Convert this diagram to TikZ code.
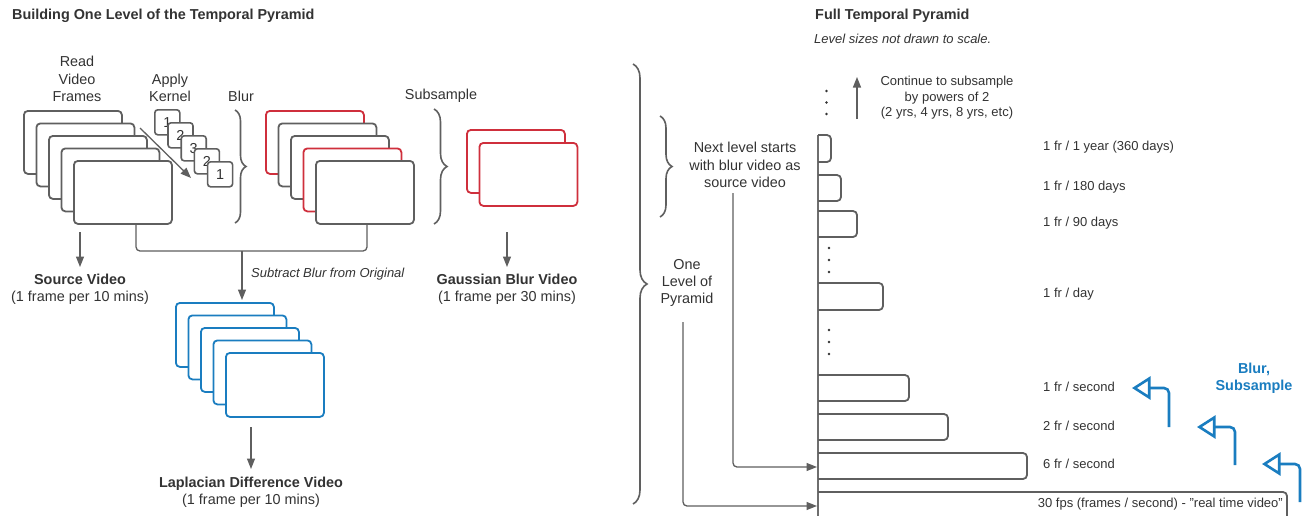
\documentclass[tikz,border=0pt]{standalone}
\usepackage{fontspec}
\setmainfont{Liberation Sans}
\usetikzlibrary{arrows.meta,decorations.pathreplacing}
\definecolor{fgray}{HTML}{5F5F5F}
\definecolor{agray}{HTML}{6E6E6E}
\definecolor{tgray}{HTML}{333333}
\definecolor{fred}{HTML}{CF2F3C}
\definecolor{fblue}{HTML}{1A7DC0}
\newcommand{\mainsz}{\fontsize{14.4pt}{17.3pt}\selectfont}
\newcommand{\smallsz}{\fontsize{13pt}{15.5pt}\selectfont}
\tikzset{
  vframe/.style={draw=fgray, line width=1.8pt, fill=white, rounded corners=4pt, minimum width=98pt, minimum height=63pt, inner sep=0pt, anchor=north west},
  redframe/.style={vframe, draw=fred},
  blueframe/.style={vframe, draw=fblue, minimum height=64pt},
  kbox/.style={draw=fgray, line width=1.6pt, fill=white, rounded corners=3pt, minimum size=25pt, inner sep=0pt, anchor=north west, font=\mainsz, text=tgray},
  lbl/.style={font=\mainsz, text=tgray, align=center, inner sep=0pt},
  slbl/.style={font=\smallsz, text=tgray, align=center, inner sep=0pt},
  gline/.style={draw=fgray, line width=1.3pt, rounded corners=4pt},
  garrow/.style={gline, -{Triangle[length=10.5pt,width=8pt]}},
  brc/.style={draw=fgray, line width=1.6pt, decorate, decoration={brace, amplitude=#1}},
  levelbar/.style={draw=fgray, line width=1.8pt, rounded corners=4pt},
  barrow/.style={draw=fblue, line width=2.6pt, rounded corners=5pt, -{Triangle[open, length=18.5pt, width=23pt]}},
  pdot/.style={fill=black!80, circle, inner sep=0pt, minimum size=2.6pt}
}
\begin{document}
\begin{tikzpicture}[x=1pt,y=-1pt]
\useasboundingbox (0,0) rectangle (1303,515);
\clip (0,0) rectangle (1303,515);
\fill[white] (0,0) rectangle (1303,515);

% titles
\node[lbl, anchor=west, font=\mainsz\bfseries] (t1) at (12,16) {Building One Level of the Temporal Pyramid};
\node[lbl, anchor=west, font=\mainsz\bfseries] (t2) at (815,16) {Full Temporal Pyramid};
\node[slbl, anchor=west, font=\smallsz\itshape] (t3) at (814,39) {Level sizes not drawn to scale.};

% labels above
\node[lbl] (readlbl) at (77,79) {Read\\Video\\Frames};
\node[lbl] (kernlbl) at (170,88) {Apply\\Kernel};
\node[lbl] (blurlbl) at (241,96) {Blur};
\node[lbl] (subslbl) at (441,96) {Subsample};

% source frames
\node[vframe] (s1) at (23,110) {};
\node[vframe] (s2) at (35.5,122.5) {};
\node[vframe] (s3) at (48,135) {};
\node[vframe] (s4) at (60.5,147.5) {};
\node[vframe] (s5) at (73,160) {};

% kernel boxes
\node[kbox] (k1) at (154,109) {1};
\node[kbox] (k2) at (167.2,122) {2};
\node[kbox] (k3) at (180.4,135) {3};
\node[kbox] (k4) at (193.6,148) {2};
\node[kbox] (k5) at (206.8,161) {1};
\coordinate (kA) at (140,128);
\coordinate (kB) at (191,178);
\draw[garrow] (kA) -- (kB);

% blur frames
\node[redframe] (b1) at (265,110) {};
\node[vframe] (b2) at (277.5,122.5) {};
\node[vframe] (b3) at (290,135) {};
\node[redframe] (b4) at (302.5,147.5) {};
\node[vframe] (b5) at (315,160) {};

% subsampled frames
\node[redframe] (g1) at (466,129) {};
\node[redframe] (g2) at (478.5,142) {};

% braces
\draw[brc=11pt] (235,110) -- (235,223);
\draw[brc=13pt] (434,109) -- (434,224);

% source video
\coordinate (srcA) at (80,232);
\coordinate (srcB) at (80,267);
\draw[garrow] (srcA) -- (srcB);
\node[lbl] (srclbl) at (80,289.5) {\bfseries Source Video\\(1 frame per 10 mins)};

% gaussian
\coordinate (gA) at (507,232);
\coordinate (gB) at (507,267);
\draw[garrow] (gA) -- (gB);
\node[lbl] (gausslbl) at (507,289.5) {\bfseries Gaussian Blur Video\\(1 frame per 30 mins)};

% subtract connector
\coordinate (subL) at (136,223);
\coordinate (subR) at (367,224);
\coordinate (subM) at (242,251);
\coordinate (subE) at (242,300);
\draw[gline] (subL) |- (subM) -| (subR);
\draw[garrow] (subM) -- (subE);
\node[lbl, anchor=west, font=\smallsz\itshape] (subtr) at (251,274) {Subtract Blur from Original};

% laplacian frames
\node[blueframe] (l1) at (175,302) {};
\node[blueframe] (l2) at (187.5,314.5) {};
\node[blueframe] (l3) at (200,327) {};
\node[blueframe] (l4) at (212.5,339.5) {};
\node[blueframe] (l5) at (225,352) {};
\coordinate (lA) at (251,427);
\coordinate (lB) at (251,469);
\draw[garrow] (lA) -- (lB);
\node[lbl] (lapl) at (251,492) {\bfseries Laplacian Difference Video\\(1 frame per 10 mins)};

% right side braces and labels
\draw[brc=14pt] (633,64) -- (633,504);
\draw[brc=12pt] (660,116) -- (660,217);
\node[lbl] (onelvl) at (687,283) {One\\Level of\\Pyramid};
\node[lbl] (nextlvl) at (745,165) {Next level starts\\with blur video as\\source video};

% axis and bars
\draw[draw=agray, line width=1.5pt] (818,135) -- (818,520);
\draw[levelbar] (818,135) -- (831,135) -- (831,162) -- (818,162);
\draw[levelbar] (818,175) -- (841,175) -- (841,201) -- (818,201);
\draw[levelbar] (818,211) -- (857,211) -- (857,237) -- (818,237);
\draw[levelbar] (818,283) -- (883,283) -- (883,310) -- (818,310);
\draw[levelbar] (818,375) -- (909,375) -- (909,401) -- (818,401);
\draw[levelbar] (818,414) -- (948,414) -- (948,440) -- (818,440);
\draw[levelbar] (818,453) -- (1027,453) -- (1027,479) -- (818,479);
\draw[levelbar] (818,492) -- (1287,492) -- (1287,530) -- (818,530);

% dots
\node[pdot] (d1) at (826.5,91) {};
\node[pdot] (d2) at (826.5,102.5) {};
\node[pdot] (d3) at (826.5,114) {};
\node[pdot] (d4) at (829,248) {};
\node[pdot] (d5) at (829,260) {};
\node[pdot] (d6) at (829,272) {};
\node[pdot] (d7) at (829,330) {};
\node[pdot] (d8) at (829,342) {};
\node[pdot] (d9) at (829,354) {};

% continue arrow
\coordinate (upA) at (857,119);
\coordinate (upB) at (857,77);
\draw[garrow] (upA) -- (upB);
\node[slbl] (cont) at (947,98) {Continue to subsample\\by powers of 2\\(2 yrs, 4 yrs, 8 yrs, etc)};

% level labels
\node[slbl, anchor=west] (lv1) at (1043,147) {1 fr / 1 year (360 days)};
\node[slbl, anchor=west] (lv2) at (1043,187) {1 fr / 180 days};
\node[slbl, anchor=west] (lv3) at (1043,223) {1 fr / 90 days};
\node[slbl, anchor=west] (lv4) at (1043,294) {1 fr / day};
\node[slbl, anchor=west] (lv5) at (1043,387) {1 fr / second};
\node[slbl, anchor=west] (lv6) at (1043,426) {2 fr / second};
\node[slbl, anchor=west] (lv7) at (1043,464) {6 fr / second};
\node[slbl, anchor=east] (lv8) at (1283,504) {30 fps (frames / second) - "real time video"};

% connectors into axis
\coordinate (nl) at (733,193);
\coordinate (ax6) at (817,467);
\draw[garrow] (nl) |- (ax6);
\coordinate (ol) at (683,322);
\coordinate (ax30) at (817,506);
\draw[garrow] (ol) |- (ax30);

% blue arrows
\coordinate (ba1) at (1169,427);
\coordinate (bt1) at (1132,388);
\coordinate (ba2) at (1235,465);
\coordinate (bt2) at (1197,427);
\coordinate (ba3) at (1300,502);
\coordinate (bt3) at (1262,464);
\draw[barrow] (ba1) |- (bt1);
\draw[barrow] (ba2) |- (bt2);
\draw[barrow] (ba3) |- (bt3);
\node[lbl, text=fblue, font=\mainsz\bfseries] (bs) at (1254,378) {Blur,\\Subsample};
\end{tikzpicture}
\end{document}
